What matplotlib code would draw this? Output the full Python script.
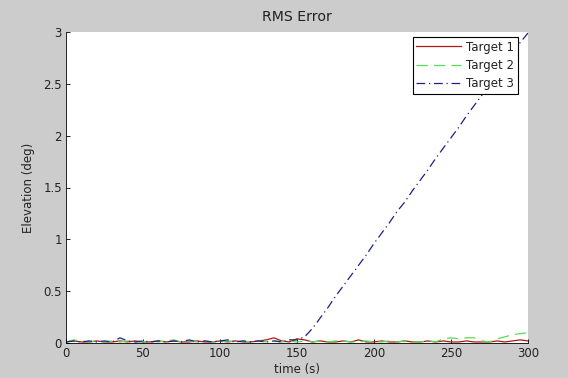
import matplotlib.pyplot as plt

# time axis, 5 s steps
time = list(range(0, 301, 5))

target_1 = [0.01, 0.02, 0.01, 0.01, 0.02, 0.01, 0.01, 0.02, 0.01, 0.02,
            0.01, 0.01, 0.02, 0.01, 0.02, 0.01, 0.01, 0.02, 0.01, 0.01,
            0.02, 0.01, 0.02, 0.01, 0.01, 0.02, 0.03, 0.05, 0.02, 0.01,
            0.04, 0.03, 0.01, 0.02, 0.01, 0.01, 0.02, 0.01, 0.03, 0.01,
            0.01, 0.02, 0.01, 0.01, 0.02, 0.01, 0.01, 0.02, 0.01, 0.02,
            0.01, 0.01, 0.02, 0.01, 0.01, 0.01, 0.02, 0.01, 0.02, 0.03,
            0.02]

target_2 = [0.01, 0.03, 0.02, 0.01, 0.02, 0.01, 0.02, 0.01, 0.02, 0.01,
            0.01, 0.02, 0.01, 0.02, 0.03, 0.01, 0.02, 0.01, 0.02, 0.01,
            0.01, 0.02, 0.01, 0.02, 0.01, 0.02, 0.01, 0.02, 0.01, 0.02,
            0.01, 0.02, 0.01, 0.02, 0.01, 0.02, 0.02, 0.01, 0.01, 0.02,
            0.01, 0.01, 0.02, 0.01, 0.02, 0.01, 0.01, 0.02, 0.01, 0.04,
            0.05, 0.04, 0.05, 0.05, 0.02, 0.01, 0.04, 0.06, 0.08, 0.09,
            0.10]

target_3 = [0.01, 0.02, 0.01, 0.02, 0.01, 0.02, 0.01, 0.05, 0.02, 0.01,
            0.02, 0.01, 0.02, 0.01, 0.02, 0.01, 0.03, 0.01, 0.02, 0.01,
            0.02, 0.03, 0.01, 0.02, 0.01, 0.02, 0.01, 0.02, 0.01, 0.03,
            0.03, 0.06, 0.14, 0.24, 0.34, 0.45, 0.55, 0.65, 0.75, 0.85,
            0.96, 1.06, 1.16, 1.27, 1.36, 1.47, 1.57, 1.67, 1.78, 1.88,
            1.98, 2.08, 2.19, 2.29, 2.39, 2.49, 2.59, 2.70, 2.80, 2.90,
            2.99]

plt.rcParams['font.family'] = ['DejaVu Sans']
plt.rcParams['font.size'] = 8.5

fig = plt.figure(figsize=(5.68, 3.78), dpi=100, facecolor='#cccccc')
ax = fig.add_axes([66 / 568, 1 - 343 / 378, 462 / 568, 311 / 378])

ax.plot(time, target_1, color='#b01818', lw=0.9, label='Target 1')
ax.plot(time, target_2, color='#55dd55', lw=0.9, ls=(0, (9, 5)), label='Target 2')
ax.plot(time, target_3, color='#202088', lw=0.9, ls=(0, (7, 3, 1, 3)), label='Target 3')

ax.set_xlim(0, 300)
ax.set_ylim(0, 3)
ax.set_xticks(range(0, 301, 50))
ax.set_yticks([0, 0.5, 1, 1.5, 2, 2.5, 3])
ax.set_yticklabels(['0', '0.5', '1', '1.5', '2', '2.5', '3'])
ax.tick_params(direction='in', length=3, width=0.6, pad=3, colors='black',
               labelcolor='#222222')
ax.spines['top'].set_visible(False)
ax.spines['right'].set_visible(False)
ax.spines['left'].set_linewidth(0.6)
ax.spines['bottom'].set_linewidth(0.6)

ax.set_xlabel('time (s)', labelpad=2, color='#222222')
ax.set_ylabel('Elevation (deg)', labelpad=6, color='#222222')
ax.set_title('RMS Error', pad=8, color='#222222')

leg = ax.legend(loc='upper right', fancybox=False, edgecolor='black',
                handlelength=3.8, handletextpad=0.45, borderaxespad=0.0,
                bbox_to_anchor=(518 / 568, 1 - 37 / 378),
                bbox_transform=fig.transFigure,
                labelspacing=0.45, borderpad=0.3, framealpha=1)
leg.get_frame().set_linewidth(0.8)
for t in leg.get_texts():
    t.set_color('#222222')

plt.savefig('out.png', dpi=100, facecolor=fig.get_facecolor())
